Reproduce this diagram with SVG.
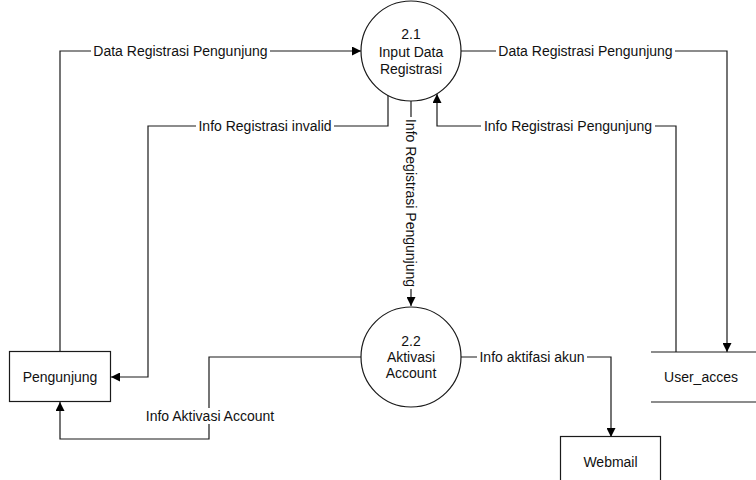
<svg xmlns="http://www.w3.org/2000/svg" width="756" height="480" viewBox="0 0 756 480">
<defs>
<style>
.ln{fill:none;stroke:#1a1a1a;stroke-width:1.2}
.sh{fill:#fff;stroke:#1a1a1a;stroke-width:1.2}
text{font-family:"Liberation Sans",Arial,sans-serif;font-size:14px;fill:#111;text-anchor:middle}
.bg{fill:#fff}
</style>
<marker id="ah" viewBox="0 0 10 10" refX="10" refY="5" markerWidth="9" markerHeight="9" markerUnits="userSpaceOnUse" orient="auto">
<path d="M0,0 L10,5 L0,10 Z" fill="#000"/>
</marker>
</defs>
<rect width="756" height="480" fill="#fff"/>
<g id="connectors">
<path class="ln" d="M60,352 V51 H361" marker-end="url(#ah)"/>
<path class="ln" d="M388,95 V126 H148 V377 H111" marker-end="url(#ah)"/>
<path class="ln" d="M461,51 H727 V352" marker-end="url(#ah)"/>
<path class="ln" d="M676,352 V126 H437 V94" marker-end="url(#ah)"/>
<path class="ln" d="M411,101 V306" marker-end="url(#ah)"/>
<path class="ln" d="M461,357 H611 V437" marker-end="url(#ah)"/>
<path class="ln" d="M361,357 H209 V439 H60 V402" marker-end="url(#ah)"/>
<rect class="bg" x="91" y="43" width="179" height="16"/>
<text x="180.5" y="56">Data Registrasi Pengunjung</text>
<rect class="bg" x="196" y="118" width="138" height="16"/>
<text x="265" y="131">Info Registrasi invalid</text>
<rect class="bg" x="496" y="43" width="179" height="16"/>
<text x="585.5" y="56">Data Registrasi Pengunjung</text>
<rect class="bg" x="481" y="118" width="174" height="16"/>
<text x="568" y="131">Info Registrasi Pengunjung</text>
<rect class="bg" x="477" y="349" width="110" height="16"/>
<text x="532" y="362">Info aktifasi akun</text>
<rect class="bg" x="142" y="408" width="135" height="16"/>
<text x="210" y="421">Info Aktivasi Account</text>
<g transform="translate(411,203) rotate(90)">
<rect class="bg" x="-86" y="-8" width="172" height="16"/>
<text x="0" y="5">Info Registrasi Pengunjung</text>
</g>
</g>
<g id="p21">
<circle class="sh" cx="411" cy="51" r="50"/>
<text x="411" y="39">2.1</text>
<text x="411" y="57">Input Data</text>
<text x="411" y="74">Registrasi</text>
</g>
<g id="p22">
<circle class="sh" cx="411" cy="357" r="50"/>
<text x="411" y="346">2.2</text>
<text x="411" y="362">Aktivasi</text>
<text x="411" y="378">Account</text>
</g>
<g id="pengunjung">
<rect class="sh" x="9.5" y="351.5" width="101" height="50"/>
<text x="60" y="382">Pengunjung</text>
</g>
<g id="user_acces">
<path class="ln" d="M651,352 H756 M651,402 H756"/>
<text x="701" y="382">User_acces</text>
</g>
<g id="webmail">
<rect class="sh" x="560.5" y="436.5" width="100" height="50"/>
<text x="610.5" y="467">Webmail</text>
</g>
</svg>
